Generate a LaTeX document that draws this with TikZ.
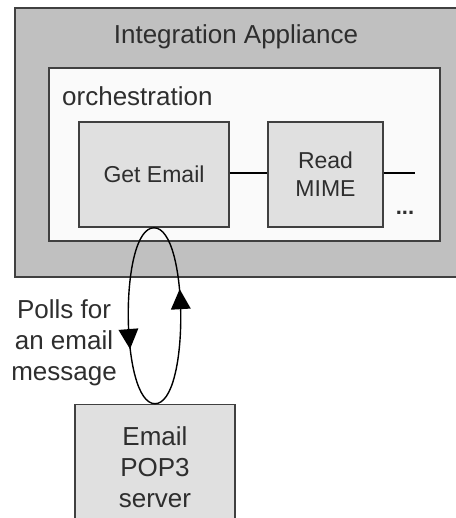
\documentclass[tikz,border=0pt]{standalone}
\usepackage{fontspec}
\setmainfont{Liberation Sans}
\usetikzlibrary{positioning}
\usetikzlibrary{decorations.markings}

\definecolor{applgray}{HTML}{C0C0C0}
\definecolor{orchwhite}{HTML}{FAFAFA}
\definecolor{stepgray}{HTML}{E0E0E0}
\definecolor{edgegray}{HTML}{404040}
\definecolor{textgray}{HTML}{2E2E2E}

\begin{document}
\begin{tikzpicture}[x=1pt, y=-1pt,
    every node/.style={text=textgray, font=\fontsize{26}{31}\selectfont},
    box/.style={draw=edgegray, line width=1.6pt, rectangle, inner sep=0pt},
    stepbox/.style={box, fill=stepgray, font=\fontsize{23}{28}\selectfont, align=center},
    link/.style={draw=black, line width=1.4pt},
    tipmark/.style={postaction={decorate, decoration={markings,
        mark=at position #1 with {\fill[black] (10pt,0pt) -- (-10pt,10pt) -- (-10pt,-10pt) -- cycle;}}}}]

      % Page size of the reference
      \useasboundingbox (0,0) rectangle (455,518);

      % Appliance and orchestration frames
      \node[box, fill=applgray, minimum width=445pt, minimum height=269pt] (appliance) at (237.5,142.5) {};
      \node (title) at (236,37) {Integration Appliance};
      \node[box, fill=orchwhite, minimum width=391pt, minimum height=173pt] (orch) at (244.5,154.5) {};
      \node[anchor=west, inner sep=0pt] (orchlabel) at (62,96) {orchestration};

      % Steps in the orchestration
      \node[stepbox, minimum width=150pt, minimum height=105pt] (getemail) at (154,174.5) {Get Email};
      \node[stepbox, minimum width=115pt, minimum height=105pt] (readmime) at (325.5,174.5) {Read\\MIME};
      \coordinate (more) at (415,173);
      \node[font=\fontsize{22}{24}\bfseries\selectfont] (dots) at (405,213) {...};

      \draw[link] (getemail.east |- 0,173) -- (readmime.west |- 0,173);
      \draw[link] (readmime.east |- 0,173) -- (more);

      % Mail server
      \node[box, fill=stepgray, minimum width=160pt, minimum height=125pt, align=center] (pop3) at (155,467)
        {Email\\POP3\\server};

      % Polling loop
      \draw[link, tipmark=0.62] (getemail.south) .. controls +(-35,0) and +(-35,0) .. (pop3.north);
      \draw[link, tipmark=0.585] (pop3.north) .. controls +(35,0) and +(35,0) .. (getemail.south);
      \node[align=center] (polls) at (64,343) {Polls for\\an email\\message};

\end{tikzpicture}
\end{document}
